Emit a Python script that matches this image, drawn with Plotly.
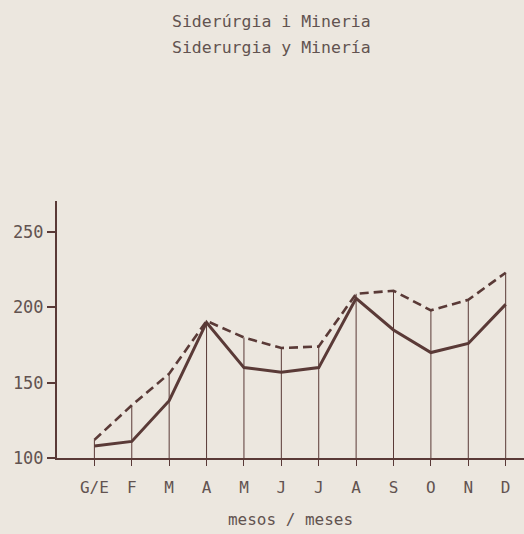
import plotly.graph_objects as go

months = ["G/E", "F", "M", "A", "M", "J", "J", "A", "S", "O", "N", "D"]
solid_vals = [108, 111, 138, 190, 160, 157, 160, 206, 185, 170, 176, 202]
dashed_vals = [112, 135, 156, 191, 180, 173, 174, 209, 211, 198, 205, 223]
y_ticks = [100, 150, 200, 250]
title_lines = ["Siderúrgia i Mineria", "Siderurgia y Minería"]

INK = "#5a3a37"
TEXT = "#625350"
PAPER = "#ece7df"
FONT = "DejaVu Sans Mono"

xs = list(range(len(months)))

# vertical guide from the baseline up to the higher of the two series
drop_x, drop_y = [], []
for i, (a, b) in enumerate(zip(solid_vals, dashed_vals)):
    drop_x += [i, i, None]
    drop_y += [100, max(a, b), None]

fig = go.Figure()
fig.add_trace(go.Scatter(
    x=drop_x, y=drop_y, mode="lines",
    line=dict(color=INK, width=1), hoverinfo="skip", showlegend=False,
))
fig.add_trace(go.Scatter(
    x=xs, y=dashed_vals, mode="lines", name="dashed",
    line=dict(color=INK, width=2.6, dash="9px,5px"), showlegend=False,
))
fig.add_trace(go.Scatter(
    x=xs, y=solid_vals, mode="lines", name="solid",
    line=dict(color=INK, width=3), showlegend=False,
))

fig.update_xaxes(
    range=[-1.0, 11.49], tickmode="array", tickvals=xs, ticktext=months,
    showline=True, linecolor=INK, linewidth=2, showgrid=False, zeroline=False,
    ticks="outside", ticklen=6, tickcolor=INK, tickwidth=1, ticklabelstandoff=8,
    tickfont=dict(family=FONT, size=16, color=TEXT),
    title=dict(text="mesos / meses", font=dict(family=FONT, size=16, color=TEXT), standoff=18),
)
fig.update_yaxes(
    range=[100, 270.6], tickmode="array", tickvals=y_ticks,
    showline=True, linecolor=INK, linewidth=2, showgrid=False, zeroline=False,
    ticks="outside", ticklen=8, tickcolor=INK, tickwidth=2,
    tickfont=dict(family=FONT, size=17, color=TEXT),
)

for line, ypos in zip(title_lines, [1.6965, 1.599]):
    fig.add_annotation(
        text=line, xref="paper", yref="paper", x=0.46, y=ypos,
        showarrow=False, yanchor="middle",
        font=dict(family=FONT, size=16.5, color=TEXT),
    )

fig.update_layout(
    width=524, height=534,
    margin=dict(l=57, r=0, t=201, b=76),
    paper_bgcolor=PAPER, plot_bgcolor=PAPER,
)

fig.write_html(
    "out.html",
    config={"displayModeBar": False},
    post_script="document.body.style.margin='0';",
)
